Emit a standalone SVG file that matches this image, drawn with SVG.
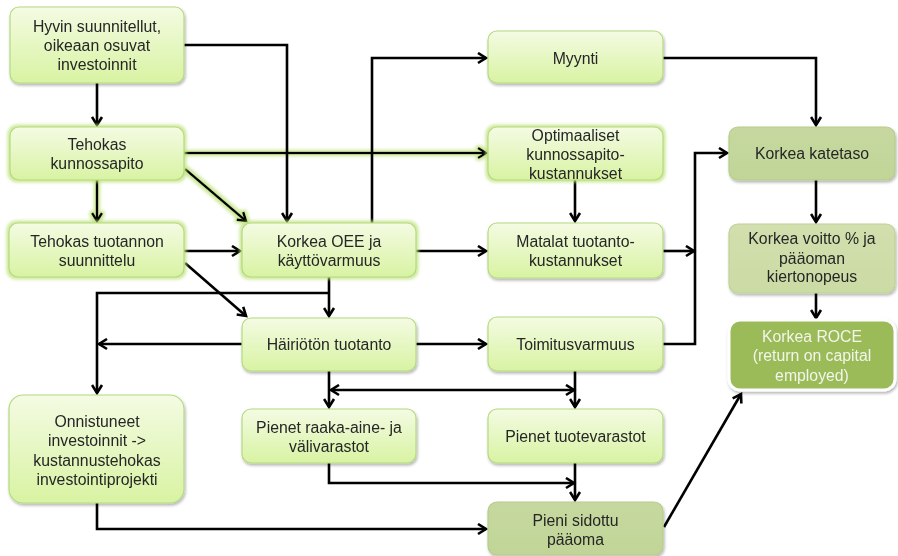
<svg xmlns="http://www.w3.org/2000/svg" width="898" height="556" viewBox="0 0 898 556">
  <defs>
    <linearGradient id="gLight" x1="0" y1="0" x2="0" y2="1">
      <stop offset="0" stop-color="#f4fbe3"/>
      <stop offset="1" stop-color="#d8f3a2"/>
    </linearGradient>
    <linearGradient id="gOlive" x1="0" y1="0" x2="0" y2="1">
      <stop offset="0" stop-color="#c6d89f"/>
      <stop offset="1" stop-color="#c1d598"/>
    </linearGradient>
    <linearGradient id="gPale" x1="0" y1="0" x2="0" y2="1">
      <stop offset="0" stop-color="#d2dfae"/>
      <stop offset="1" stop-color="#cbdba4"/>
    </linearGradient>
    <filter id="shadow" x="-10%" y="-15%" width="125%" height="140%">
      <feGaussianBlur in="SourceAlpha" stdDeviation="1.5"/>
      <feOffset dx="1" dy="2" result="b"/>
      <feComponentTransfer><feFuncA type="linear" slope="0.3"/></feComponentTransfer>
      <feMerge><feMergeNode/><feMergeNode in="SourceGraphic"/></feMerge>
    </filter>
    <filter id="glow" x="-20%" y="-30%" width="140%" height="160%">
      <feMorphology in="SourceAlpha" operator="dilate" radius="1.8" result="d"/>
      <feGaussianBlur in="d" stdDeviation="1.8" result="bl"/>
      <feFlood flood-color="#bfe27a" flood-opacity="0.75"/>
      <feComposite in2="bl" operator="in"/>
      <feMerge><feMergeNode/><feMergeNode in="SourceGraphic"/></feMerge>
    </filter>
    <marker id="arr" viewBox="0 0 13 13" markerUnits="userSpaceOnUse" markerWidth="13" markerHeight="13" refX="10" refY="6.5" orient="auto-start-reverse">
      <path d="M2,1.5 L10,6.5 L2,11.5" fill="none" stroke="#000" stroke-width="2.6" stroke-linejoin="miter"/>
    </marker>
  </defs>
  <style>
    .box { fill: url(#gLight); stroke: #b5da80; stroke-width: 1.2; }
    .olive { fill: url(#gOlive); stroke: #b6cc8a; stroke-width: 1.2; }
    .pale { fill: url(#gPale); stroke: #c0d197; stroke-width: 1.2; }
    .dark { fill: #9bbb59; stroke: #ffffff; stroke-width: 3; }
    text { font-family: "Liberation Sans", Arial, sans-serif; font-size: 15.8px; fill: #262626; text-anchor: middle; }
    .light { fill: #f2f5ea; }
    .c { fill: none; stroke: #000; stroke-width: 2.6; }
    .a { marker-end: url(#arr); }
  </style>

  <!-- connectors -->
  <g id="connectors">
    <g filter="url(#glow)">
      <path class="c a" d="M97,180 V221"/>
      <path class="c a" d="M185,169 L246,221"/>
      <path class="c a" d="M184,153 H486"/>
    </g>
    <path class="c a" d="M97,83 V125"/>
    <path class="c a" d="M184,45 H287 V221"/>
    <path class="c a" d="M372,223 V58 H486"/>
    <path class="c a" d="M184,251 H240"/>
    <path class="c a" d="M185,263 L246,316"/>
    <path class="c a" d="M329,277 V316"/>
    <path class="c a" d="M329,293 H97 V393"/>
    <path class="c a" d="M242,344 H99"/>
    <path class="c a" d="M416,251 H486"/>
    <path class="c a" d="M416,344 H486"/>
    <path class="c a" d="M575,180 V221"/>
    <path class="c a" d="M663,58 H816 V125"/>
    <path class="c a" d="M663,251 H694"/>
    <path class="c a" d="M663,344 H695 V153 H727"/>
    <path class="c a" d="M816,180 V222"/>
    <path class="c a" d="M816,293 V318"/>
    <path class="c a" d="M329,371 V407"/>
    <path class="c a" d="M575,371 V407"/>
    <path class="c a" d="M331,390 H574" marker-start="url(#arr)"/>
    <path class="c a" d="M329,463 V483 H574"/>
    <path class="c a" d="M575,463 V500"/>
    <path class="c a" d="M97,503 V529 H486"/>
    <path class="c a" d="M664,527 L741,394"/>
  </g>

  <!-- nodes -->
  <g id="n-hyvin" filter="url(#shadow)">
    <rect class="box" x="10" y="7" width="174" height="76" rx="9"/>
    <text x="97" y="31.5">Hyvin  suunnitellut,</text>
    <text x="97" y="50.5">oikeaan osuvat</text>
    <text x="97" y="69.5">investoinnit</text>
  </g>
  <g id="n-kunnossapito" filter="url(#glow)">
    <rect class="box" x="10" y="127" width="174" height="53" rx="9"/>
    <text x="97" y="149.5">Tehokas</text>
    <text x="97" y="168.5">kunnossapito</text>
  </g>
  <g id="n-suunnittelu" filter="url(#glow)">
    <rect class="box" x="9" y="223" width="175" height="54" rx="9"/>
    <text x="97" y="246.5">Tehokas tuotannon</text>
    <text x="97" y="265.5">suunnittelu</text>
  </g>
  <g id="n-oee" filter="url(#glow)">
    <rect class="box" x="242" y="223" width="174" height="54" rx="9"/>
    <text x="329" y="246.5">Korkea OEE ja</text>
    <text x="329" y="265.5">käyttövarmuus</text>
  </g>
  <g id="n-hairioton" filter="url(#shadow)">
    <rect class="box" x="242" y="318" width="174" height="53" rx="9"/>
    <text x="329" y="349.5">Häiriötön tuotanto</text>
  </g>
  <g id="n-onnistuneet" filter="url(#shadow)">
    <rect class="box" x="9" y="395" width="175" height="108" rx="14"/>
    <text x="97" y="427">Onnistuneet</text>
    <text x="97" y="446">investoinnit  -&gt;</text>
    <text x="97" y="465.5">kustannustehokas</text>
    <text x="97" y="484.5">investointiprojekti</text>
  </g>
  <g id="n-raaka" filter="url(#shadow)">
    <rect class="box" x="242" y="409" width="174" height="54" rx="9"/>
    <text x="329" y="432.5">Pienet raaka-aine-  ja</text>
    <text x="329" y="452">välivarastot</text>
  </g>
  <g id="n-myynti" filter="url(#shadow)">
    <rect class="box" x="488" y="31" width="175" height="52" rx="9"/>
    <text x="575.5" y="63.5">Myynti</text>
  </g>
  <g id="n-optimaaliset" filter="url(#glow)">
    <rect class="box" x="488" y="127" width="175" height="53" rx="9"/>
    <text x="575.5" y="140.5">Optimaaliset</text>
    <text x="575.5" y="159.5">kunnossapito-</text>
    <text x="575.5" y="178.5">kustannukset</text>
  </g>
  <g id="n-matalat" filter="url(#shadow)">
    <rect class="box" x="488" y="223" width="175" height="55" rx="9"/>
    <text x="575.5" y="247">Matalat tuotanto-</text>
    <text x="575.5" y="266">kustannukset</text>
  </g>
  <g id="n-toimitus" filter="url(#shadow)">
    <rect class="box" x="488" y="317" width="175" height="54" rx="9"/>
    <text x="575.5" y="349.5">Toimitusvarmuus</text>
  </g>
  <g id="n-tuotevarastot" filter="url(#shadow)">
    <rect class="box" x="488" y="409" width="175" height="54" rx="9"/>
    <text x="575.5" y="441.5">Pienet tuotevarastot</text>
  </g>
  <g id="n-sidottu" filter="url(#shadow)">
    <rect class="olive" x="488" y="502" width="175" height="53" rx="9"/>
    <text x="575.5" y="525.5">Pieni sidottu</text>
    <text x="575.5" y="545">pääoma</text>
  </g>
  <g id="n-katetaso" filter="url(#shadow)">
    <rect class="olive" x="729" y="127" width="166" height="53" rx="9"/>
    <text x="812" y="159">Korkea katetaso</text>
  </g>
  <g id="n-voitto" filter="url(#shadow)">
    <rect class="pale" x="729" y="224" width="166" height="69" rx="9"/>
    <text x="812" y="244">Korkea voitto  % ja</text>
    <text x="812" y="263.5">pääoman</text>
    <text x="812" y="282">kiertonopeus</text>
  </g>
  <g id="n-roce" filter="url(#shadow)">
    <rect class="dark" x="729" y="320" width="166" height="70" rx="11"/>
    <text class="light" x="812" y="342">Korkea ROCE</text>
    <text class="light" x="812" y="361">(return  on  capital</text>
    <text class="light" x="812" y="380.5">employed)</text>
  </g>
</svg>
